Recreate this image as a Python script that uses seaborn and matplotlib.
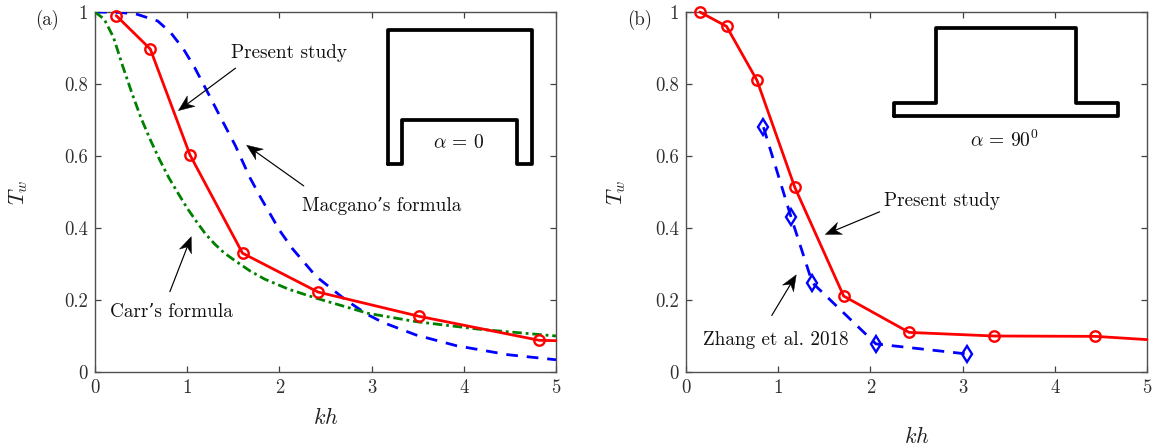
import math
import matplotlib
matplotlib.use("Agg")
import matplotlib.pyplot as plt
from matplotlib.patches import Polygon
from matplotlib.transforms import IdentityTransform
import seaborn as sns

sns.set_theme(style="white")
plt.rcParams.update({
    "font.family": ["cmr10", "DejaVu Serif"],
    "mathtext.fontset": "cm",
    "axes.formatter.use_mathtext": True,
    "axes.unicode_minus": False,
})

# Panel (a)
a_red_x = [0.23, 0.60, 1.03, 1.60, 2.42, 3.51, 4.82, 5.0]
a_red_y = [0.990, 0.897, 0.603, 0.330, 0.222, 0.155, 0.088, 0.087]
a_blue_x = [0, 0.25, 0.44, 0.68, 0.82, 0.96, 1.08, 1.24, 1.36, 1.52, 1.68, 1.8, 1.92, 2.0, 2.14, 2.4, 2.72, 2.96, 3.12, 3.48, 3.92, 4.48, 5.0]
a_blue_y = [1, 0.999, 0.995, 0.975, 0.943, 0.897, 0.846, 0.768, 0.708, 0.630, 0.540, 0.483, 0.430, 0.394, 0.343, 0.265, 0.200, 0.159, 0.138, 0.103, 0.073, 0.048, 0.034]
a_green_x = [0, 0.1, 0.2, 0.3, 0.4, 0.5, 0.6, 0.7, 0.8, 0.9, 1.0, 1.1, 1.2, 1.3, 1.4, 1.52, 1.68, 1.84, 2.1, 2.4, 2.96, 3.48, 4.16, 5.0]
a_green_y = [1, 0.98, 0.93, 0.85, 0.775, 0.705, 0.645, 0.59, 0.54, 0.497, 0.455, 0.418, 0.383, 0.355, 0.331, 0.309, 0.281, 0.258, 0.230, 0.205, 0.163, 0.140, 0.119, 0.100]
a_shape_x = [3.18, 3.18, 4.74, 4.74, 4.58, 4.58, 3.33, 3.33, 3.18]
a_shape_y = [0.578, 0.949, 0.949, 0.578, 0.578, 0.701, 0.701, 0.578, 0.578]

# Panel (b)
b_red_x = [0.15, 0.44, 0.77, 1.18, 1.71, 2.42, 3.34, 4.44, 5.0]
b_red_y = [1.0, 0.96, 0.81, 0.513, 0.211, 0.11, 0.10, 0.099, 0.09]
b_blue_x = [0.84, 1.14, 1.37, 2.06, 3.05]
b_blue_y = [0.68, 0.43, 0.248, 0.078, 0.05]
b_shape_x = [2.256, 2.256, 2.71, 2.71, 4.23, 4.23, 4.69, 4.69, 2.256]
b_shape_y = [0.712, 0.746, 0.746, 0.956, 0.956, 0.746, 0.746, 0.712, 0.712]

xticks = [0, 1, 2, 3, 4, 5]
xticklabels = ["0", "1", "2", "3", "4", "5"]
yticks = [0, 0.2, 0.4, 0.6, 0.8, 1]
yticklabels = ["0", "0.2", "0.4", "0.6", "0.8", "1"]

fig = plt.figure(figsize=(11.56, 4.48), dpi=100)
W, H = 1156, 448
ax_a = fig.add_axes([95 / W, 1 - 372 / H, 461 / W, 360 / H])
ax_b = fig.add_axes([686 / W, 1 - 372 / H, 461 / W, 360 / H])

RED = "#ff0000"
BLUE = "#0000ff"
GREEN = "#008000"
LINE = dict(sort=False, estimator=None, errorbar=None)

sns.lineplot(x=a_blue_x, y=a_blue_y, ax=ax_a, color=BLUE, lw=2, linestyle=(0, (4.2, 3.2)), zorder=3, **LINE)
sns.lineplot(x=a_green_x, y=a_green_y, ax=ax_a, color=GREEN, lw=2, linestyle=(0, (3.4, 1.4, 1.0, 1.4)), zorder=3, **LINE)
sns.lineplot(x=a_red_x, y=a_red_y, ax=ax_a, color=RED, lw=2,
             marker="o", markersize=7.5, markerfacecolor="none", markeredgecolor=RED,
             markeredgewidth=1.7, markevery=list(range(7)), clip_on=False, zorder=4, **LINE)

sns.lineplot(x=b_blue_x, y=b_blue_y, ax=ax_b, color=BLUE, lw=2, linestyle=(0, (4.2, 3.2)),
             marker="d", markersize=8.5, markerfacecolor="none",
             markeredgecolor=BLUE, markeredgewidth=1.7, zorder=3, **LINE)
sns.lineplot(x=b_red_x, y=b_red_y, ax=ax_b, color=RED, lw=2,
             marker="o", markersize=7.5, markerfacecolor="none", markeredgecolor=RED,
             markeredgewidth=1.7, markevery=list(range(8)), clip_on=False, zorder=4, **LINE)

sns.lineplot(x=a_shape_x, y=a_shape_y, ax=ax_a, color="black", lw=2.7, zorder=2, **LINE)
sns.lineplot(x=b_shape_x, y=b_shape_y, ax=ax_b, color="black", lw=2.7, zorder=2, **LINE)

for ax in (ax_a, ax_b):
    ax.set_xlim(0, 5)
    ax.set_ylim(0, 1)
    ax.set_xticks(xticks, xticklabels)
    ax.set_yticks(yticks, yticklabels)
    ax.tick_params(direction="in", length=4.5, width=0.9, color="#404040", labelcolor="#303030",
                   labelsize=13.5, top=True, right=True, bottom=True, left=True, pad=5)
    for s in ax.spines.values():
        s.set_color("#505050")
        s.set_linewidth(1.0)
        s.set_visible(True)

ax_a.set_xlabel(r"$kh$", fontsize=16, color="#202020")
ax_a.xaxis.set_label_coords(0.5, -0.097)
ax_b.set_xlabel(r"$kh$", fontsize=16, color="#202020")
ax_b.xaxis.set_label_coords(0.5, -0.150)
ax_a.set_ylabel(r"$T_w$", fontsize=16, color="#202020")
ax_a.yaxis.set_label_coords(-0.14, 0.5)
ax_b.set_ylabel(r"$T_w$", fontsize=16, color="#202020")
ax_b.yaxis.set_label_coords(-0.126, 0.5)


def note(ax, tail, head):
    """Thin shaft plus a swept-back head, sized in pixels like the MATLAB annotation arrows."""
    tx, ty = ax.transData.transform(tail)
    hx, hy = ax.transData.transform(head)
    d = math.hypot(hx - tx, hy - ty)
    ux, uy = (hx - tx) / d, (hy - ty) / d
    nx, ny = -uy, ux
    length, half, notch = 16, 6.5, 11
    bx, by = hx - ux * notch, hy - uy * notch
    pts = [(hx, hy),
           (hx - ux * length + nx * half, hy - uy * length + ny * half),
           (bx, by),
           (hx - ux * length - nx * half, hy - uy * length - ny * half)]
    ax.add_patch(Polygon(pts, closed=True, facecolor="black", edgecolor="black", lw=0.3,
                         transform=IdentityTransform(), clip_on=False, zorder=6))
    ax.annotate("", xy=(bx, by), xytext=(tx, ty), xycoords="figure pixels", textcoords="figure pixels",
                arrowprops=dict(arrowstyle="-", color="black", lw=0.85, shrinkA=0, shrinkB=0), zorder=6)


note(ax_a, (1.524, 0.844), (0.904, 0.726))
note(ax_a, (2.264, 0.517), (1.644, 0.630))
note(ax_a, (0.812, 0.223), (1.044, 0.376))
note(ax_b, (2.10, 0.445), (1.51, 0.382))
note(ax_b, (0.93, 0.157), (1.196, 0.27))

TXT = dict(fontsize=13.8, color="#101010", va="center", ha="left")
ax_a.text(1.476, 0.887, "Present study", **TXT)
ax_a.text(2.244, 0.46, "Macgano\u2019s formula", **TXT)
ax_a.text(0.164, 0.166, "Carr\u2019s formula", **TXT)
ax_b.text(2.148, 0.476, "Present study", **TXT)
ax_b.text(0.188, 0.09, "Zhang et al. 2018", **TXT)
ax_a.text(3.94, 0.637, r"$\alpha\,=\,0$", fontsize=14, ha="center", va="center", color="#101010")
ax_b.text(3.45, 0.643, r"$\alpha\,=\,90^0$", fontsize=14, ha="center", va="center", color="#101010")
ax_a.text(-0.65, 0.978, "(a)", fontsize=13.5, ha="left", va="center", color="#202020")
ax_b.text(-0.64, 0.978, "(b)", fontsize=13.5, ha="left", va="center", color="#202020")

fig.savefig("out.png", dpi=100)
